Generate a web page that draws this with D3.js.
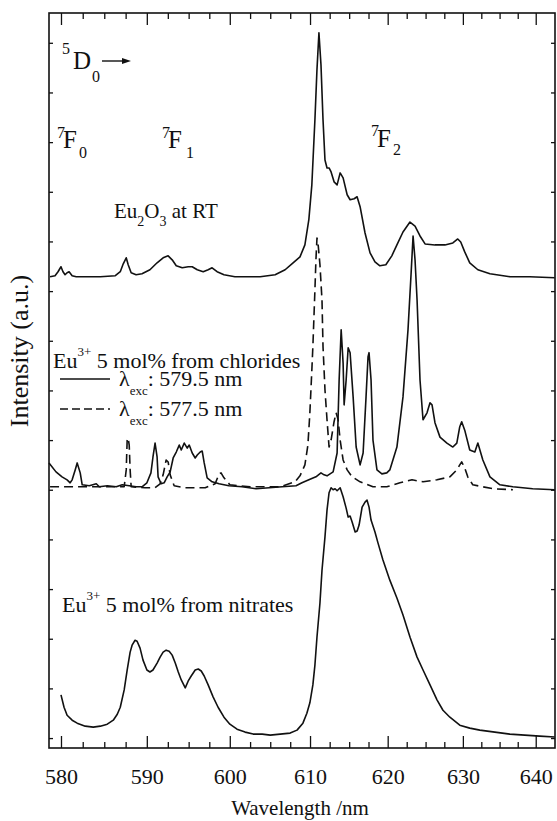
<!DOCTYPE html>
<html>
<head>
<meta charset="utf-8">
<script src="https://cdn.jsdelivr.net/npm/d3@7"></script>
<style>
  body { margin: 0; background: #fff; }
</style>
</head>
<body>
<div id="chart"></div>
<script>
// x axis (wavelength, nm) - the plot is linear in wavenumber
const xTicksMajor = [580, 590, 600, 610, 620, 630, 640];
const yTicks = d3.range(0, 15);

// Eu2O3 at RT  [wavelength nm, intensity a.u.]
const eu2o3RT = [
  [578.75, 9.29], [579.32, 9.31], [579.66, 9.39], [580.0, 9.49], [580.23, 9.39], [580.47, 9.33],
  [580.70, 9.37], [580.93, 9.39], [581.28, 9.31], [581.75, 9.29], [584.54, 9.29], [586.29, 9.31],
  [586.87, 9.39], [587.22, 9.55], [587.57, 9.67], [587.80, 9.53], [588.15, 9.37], [588.73, 9.33],
  [589.43, 9.35], [590.37, 9.43], [591.22, 9.57], [591.94, 9.67], [592.54, 9.71], [593.02, 9.63],
  [593.51, 9.51], [594.23, 9.47], [594.95, 9.49], [595.43, 9.49], [596.04, 9.43], [596.76, 9.39],
  [597.36, 9.43], [597.84, 9.47], [598.45, 9.39], [599.29, 9.33], [600.63, 9.29], [603.75, 9.29],
  [605.61, 9.33], [606.86, 9.43], [607.86, 9.57], [608.73, 9.69], [609.35, 9.93], [609.85, 10.44],
  [610.23, 11.14], [610.62, 12.45], [610.88, 13.46], [611.13, 14.20], [611.39, 13.56], [611.65, 12.45],
  [611.90, 11.64], [612.16, 11.48], [612.42, 11.48], [612.68, 11.40], [613.06, 11.20], [613.45, 11.14],
  [613.84, 11.38], [614.22, 11.28], [614.74, 10.94], [615.12, 10.84], [615.64, 10.86], [616.02, 10.90],
  [616.41, 10.70], [617.05, 10.17], [617.70, 9.77], [618.34, 9.59], [618.98, 9.51], [619.76, 9.53],
  [620.54, 9.71], [621.21, 9.93], [622.01, 10.19], [622.93, 10.39], [623.60, 10.31], [624.26, 10.11],
  [624.93, 9.95], [626.25, 9.93], [627.58, 9.93], [628.65, 9.97], [629.31, 10.05], [629.71, 9.99],
  [630.25, 9.79], [630.93, 9.57], [632.03, 9.43], [633.68, 9.35], [636.42, 9.29], [639.16, 9.29],
  [642.65, 9.27]
];

// Eu3+ 5 mol% from chlorides, excitation 579.5 nm
const chlorides5795 = [
  [578.63, 5.54], [579.43, 5.36], [580.12, 5.26], [580.70, 5.20], [581.05, 5.14], [581.28, 5.20],
  [581.63, 5.40], [581.86, 5.54], [582.21, 5.34], [582.44, 5.10], [583.26, 5.08], [584.07, 5.12],
  [584.42, 5.06], [585.35, 5.08], [586.40, 5.06], [587.10, 5.10], [587.92, 5.08], [588.73, 5.06],
  [589.43, 5.06], [590.01, 5.14], [590.49, 5.34], [590.73, 5.66], [590.98, 5.94], [591.22, 5.66],
  [591.34, 5.26], [591.70, 5.12], [592.06, 5.14], [592.42, 5.26], [592.78, 5.36], [593.14, 5.64],
  [593.51, 5.76], [593.87, 5.90], [594.11, 5.80], [594.47, 5.94], [594.83, 5.84], [595.07, 5.90],
  [595.43, 5.74], [595.79, 5.64], [596.04, 5.70], [596.40, 5.76], [596.64, 5.78], [596.88, 5.54],
  [597.24, 5.24], [597.84, 5.16], [598.69, 5.12], [599.89, 5.08], [601.51, 5.06], [603.25, 5.02],
  [604.87, 5.04], [606.49, 5.06], [608.23, 5.08], [608.98, 5.14], [609.85, 5.20], [610.75, 5.26],
  [611.39, 5.34], [611.78, 5.30], [612.16, 5.28], [612.94, 5.36], [613.45, 5.74], [613.71, 7.21],
  [613.97, 8.22], [614.22, 7.55], [614.35, 6.71], [614.61, 7.21], [614.87, 7.86], [615.12, 7.76],
  [615.51, 6.87], [615.90, 5.86], [616.41, 5.50], [616.80, 5.74], [617.18, 6.87], [617.44, 7.68],
  [617.57, 7.76], [617.83, 7.21], [618.08, 6.00], [618.60, 5.40], [619.24, 5.32], [619.88, 5.34],
  [620.28, 5.40], [621.21, 5.86], [622.01, 6.87], [622.67, 8.22], [623.07, 9.33], [623.34, 10.11],
  [623.60, 9.63], [623.87, 8.82], [624.26, 7.21], [624.66, 6.41], [625.19, 6.55], [625.59, 6.75],
  [625.86, 6.71], [626.25, 6.35], [626.92, 6.06], [627.85, 5.94], [628.65, 5.86], [629.18, 5.94],
  [629.58, 6.27], [629.84, 6.37], [630.25, 6.20], [630.93, 5.80], [631.62, 5.76], [632.03, 5.94],
  [632.71, 5.60], [633.68, 5.26], [635.05, 5.10], [636.83, 5.06], [639.58, 5.02], [642.65, 5.00]
];

// Eu3+ 5 mol% from chlorides, excitation 577.5 nm
const chlorides5775 = [
  [578.75, 5.06], [585.70, 5.06], [587.33, 5.06], [587.57, 5.40], [587.68, 6.00], [587.80, 6.04],
  [587.92, 5.90], [588.03, 5.40], [588.15, 5.06], [589.78, 5.04], [590.98, 5.04], [591.58, 5.12],
  [591.94, 5.30], [592.30, 5.60], [592.54, 5.56], [592.78, 5.30], [593.26, 5.08], [594.59, 5.04],
  [597.00, 5.04], [598.21, 5.12], [598.69, 5.32], [598.93, 5.34], [599.29, 5.24], [600.01, 5.10],
  [602.50, 5.06], [606.24, 5.06], [608.11, 5.16], [608.73, 5.28], [609.35, 5.50], [609.73, 5.90],
  [609.98, 6.55], [610.23, 7.41], [610.36, 7.88], [610.62, 9.02], [610.75, 9.63], [610.88, 10.07],
  [611.00, 9.99], [611.26, 9.53], [611.52, 8.82], [611.65, 7.88], [611.90, 7.01], [612.16, 6.41],
  [612.42, 5.86], [612.68, 6.00], [613.06, 6.37], [613.32, 6.55], [613.58, 6.41], [613.84, 6.00],
  [614.22, 5.60], [614.74, 5.40], [615.38, 5.26], [616.41, 5.16], [618.08, 5.06], [619.88, 5.06],
  [621.61, 5.14], [623.20, 5.20], [624.66, 5.16], [626.52, 5.20], [628.25, 5.26], [629.18, 5.40],
  [629.58, 5.50], [629.84, 5.56], [630.25, 5.44], [630.66, 5.26], [631.34, 5.10], [634.09, 5.02],
  [636.83, 5.00]
];

// Eu3+ 5 mol% from nitrates
const nitrates = [
  [580.00, 0.87], [580.35, 0.62], [580.70, 0.46], [581.28, 0.36], [581.86, 0.30], [582.79, 0.24],
  [583.72, 0.22], [584.54, 0.24], [585.35, 0.28], [586.05, 0.36], [586.52, 0.48], [586.87, 0.62],
  [587.33, 0.97], [587.68, 1.37], [588.03, 1.73], [588.26, 1.87], [588.61, 1.97], [588.85, 1.95],
  [589.20, 1.81], [589.55, 1.57], [590.01, 1.37], [590.37, 1.33], [590.73, 1.37], [591.22, 1.51],
  [591.58, 1.63], [591.94, 1.73], [592.30, 1.77], [592.66, 1.75], [593.02, 1.67], [593.39, 1.51],
  [593.75, 1.33], [594.11, 1.17], [594.59, 1.01], [594.95, 1.15], [595.31, 1.25], [595.79, 1.37],
  [596.16, 1.39], [596.52, 1.35], [596.88, 1.25], [597.36, 1.07], [597.96, 0.83], [598.57, 0.62],
  [599.29, 0.42], [600.01, 0.28], [600.89, 0.18], [601.88, 0.12], [602.88, 0.08], [604.00, 0.08],
  [605.00, 0.06], [606.24, 0.08], [607.49, 0.10], [608.36, 0.16], [609.10, 0.30], [609.60, 0.50],
  [609.98, 0.71], [610.36, 1.07], [610.62, 1.47], [610.88, 2.03], [611.26, 2.72], [611.52, 3.38],
  [611.90, 4.05], [612.16, 4.59], [612.42, 4.94], [612.68, 5.04], [612.94, 5.00], [613.19, 5.02],
  [613.45, 4.98], [613.84, 5.04], [614.22, 4.86], [614.61, 4.63], [614.87, 4.45], [615.12, 4.47],
  [615.38, 4.35], [615.77, 4.15], [616.03, 4.17], [616.28, 4.29], [616.67, 4.65], [617.05, 4.75],
  [617.31, 4.79], [617.57, 4.65], [617.83, 4.39], [618.34, 4.15], [618.73, 3.93], [619.37, 3.59],
  [620.28, 3.18], [621.21, 2.82], [622.01, 2.48], [622.94, 2.03], [623.87, 1.63], [624.66, 1.37],
  [625.59, 1.07], [626.52, 0.77], [627.32, 0.56], [628.25, 0.42], [629.58, 0.26], [630.93, 0.20],
  [632.30, 0.16], [634.35, 0.12], [636.41, 0.08], [638.47, 0.06], [640.55, 0.04], [642.65, 0.02]
];

const FONT = "'Liberation Serif', 'DejaVu Serif', 'Times New Roman', serif";
const W = 557, H = 821;
const margin = { TOP: 13, BOTTOM: 73, LEFT: 49, RIGHT: 2 };
const plotW = W - margin.LEFT - margin.RIGHT;
const plotH = H - margin.TOP - margin.BOTTOM;

const svg = d3.select("#chart").append("svg")
  .attr("width", W)
  .attr("height", H)
  .attr("font-family", FONT);

const g = svg.append("g")
  .attr("transform", `translate(${margin.LEFT}, ${margin.TOP})`);

// wavenumber scale (cm-1), drawn left to right decreasing
const x = d3.scaleLinear()
  .domain([1e7 / 578.63, 1e7 / 642.7])
  .range([0, plotW]);
const xw = nm => x(1e7 / nm);

const y = d3.scaleLinear()
  .domain([-0.2, 14.6])
  .range([plotH, 0]);

const majorK = xTicksMajor.map(nm => 1e7 / nm);
const minorK = d3.range(582.5, 640, 2.5)
  .filter(nm => nm % 10 !== 0)
  .map(nm => 1e7 / nm);

// axes
const axBottom = g.append("g")
  .attr("transform", `translate(0, ${plotH})`)
  .call(d3.axisBottom(x).tickValues(majorK)
    .tickFormat(k => Math.round(1e7 / k))
    .tickSizeInner(-12).tickSizeOuter(0).tickPadding(20));
axBottom.attr("font-family", FONT).attr("font-size", 22);
axBottom.selectAll("text").attr("fill", "#111");

g.append("g")
  .attr("transform", `translate(0, ${plotH})`)
  .call(d3.axisBottom(x).tickValues(minorK).tickFormat("").tickSizeInner(-6).tickSizeOuter(0));

g.append("g")
  .call(d3.axisTop(x).tickValues(majorK).tickFormat("").tickSizeInner(-12).tickSizeOuter(0));
g.append("g")
  .call(d3.axisTop(x).tickValues(minorK).tickFormat("").tickSizeInner(-6).tickSizeOuter(0));

g.append("g")
  .call(d3.axisLeft(y).tickValues(yTicks).tickFormat("").tickSizeInner(-4).tickSizeOuter(0));
g.append("g")
  .attr("transform", `translate(${plotW}, 0)`)
  .call(d3.axisRight(y).tickValues(yTicks).tickFormat("").tickSizeInner(-4).tickSizeOuter(0));

g.selectAll(".domain").remove();
g.selectAll(".tick line").attr("stroke", "#111").attr("stroke-width", 1.3);

// frame
g.append("rect")
  .attr("width", plotW)
  .attr("height", plotH)
  .attr("fill", "none")
  .attr("stroke", "#111")
  .attr("stroke-width", 1.6);

// spectra
const line = d3.line()
  .x(d => xw(d[0]))
  .y(d => y(d[1]));

const series = [
  { data: eu2o3RT, dash: null },
  { data: nitrates, dash: null },
  { data: chlorides5775, dash: "9,5" },
  { data: chlorides5795, dash: null }
];

g.selectAll("path.spec")
  .data(series)
  .enter()
  .append("path")
  .attr("class", "spec")
  .attr("d", d => line(d.data))
  .attr("fill", "none")
  .attr("stroke", "#111")
  .attr("stroke-width", 1.6)
  .attr("stroke-linejoin", "round")
  .attr("stroke-dasharray", d => d.dash);

// axis titles
svg.append("text")
  .attr("x", 300).attr("y", 815)
  .attr("text-anchor", "middle")
  .attr("font-size", 21)
  .attr("fill", "#111")
  .text("Wavelength /nm");

svg.append("text")
  .attr("transform", "translate(28, 351) rotate(-90)")
  .attr("text-anchor", "middle")
  .attr("font-size", 26)
  .attr("fill", "#111")
  .text("Intensity (a.u.)");

// helper for text with sub / superscripts
function richText(xp, yp, size, parts) {
  const t = svg.append("text").attr("x", xp).attr("y", yp)
    .attr("font-size", size).attr("fill", "#111");
  let shift = 0;
  parts.forEach(p => {
    const off = p.dy || 0;
    t.append("tspan")
      .attr("dy", off - shift)
      .attr("font-size", p.size || size)
      .text(p.t);
    shift = off;
  });
  return t;
}

// transition labels
richText(62, 54, 16, [{ t: "5" }]);
richText(73, 69, 25, [{ t: "D" }]);
richText(92, 82, 16, [{ t: "0" }]);
svg.append("line")
  .attr("x1", 102).attr("y1", 61).attr("x2", 124).attr("y2", 61)
  .attr("stroke", "#111").attr("stroke-width", 1.4);
svg.append("path")
  .attr("d", "M122,58 L131,61 L122,64 Z")
  .attr("fill", "#111");

richText(57, 138, 16, [{ t: "7" }]);
richText(63, 148, 25, [{ t: "F" }]);
richText(79, 158, 16, [{ t: "0" }]);

richText(162, 138, 16, [{ t: "7" }]);
richText(168, 148, 25, [{ t: "F" }]);
richText(186, 158, 16, [{ t: "1" }]);

richText(371, 136, 16, [{ t: "7" }]);
richText(377, 147, 25, [{ t: "F" }]);
richText(393, 155, 16, [{ t: "2" }]);

// series labels
richText(114, 218, 21, [
  { t: "Eu" }, { t: "2", size: 14, dy: 8 }, { t: "O" }, { t: "3", size: 14, dy: 8 }, { t: " at RT" }
]);

richText(53, 368, 22, [
  { t: "Eu" }, { t: "3+", size: 13, dy: -12 }, { t: " 5 mol% from chlorides" }
]);

richText(62, 612, 22, [
  { t: "Eu" }, { t: "3+", size: 13, dy: -12 }, { t: " 5 mol% from nitrates" }
]);

// legend
const legend = [
  { label: "579.5 nm", dash: null, y: 379 },
  { label: "577.5 nm", dash: "8,4", y: 409 }
];
legend.forEach(l => {
  svg.append("line")
    .attr("x1", 60).attr("x2", 110)
    .attr("y1", l.y).attr("y2", l.y)
    .attr("stroke", "#111").attr("stroke-width", 1.5)
    .attr("stroke-dasharray", l.dash);
  richText(119, l.y + 7, 22, [
    { t: "λ" }, { t: "exc", size: 13, dy: 9 }, { t: ": " + l.label }
  ]);
});
</script>
</body>
</html>
